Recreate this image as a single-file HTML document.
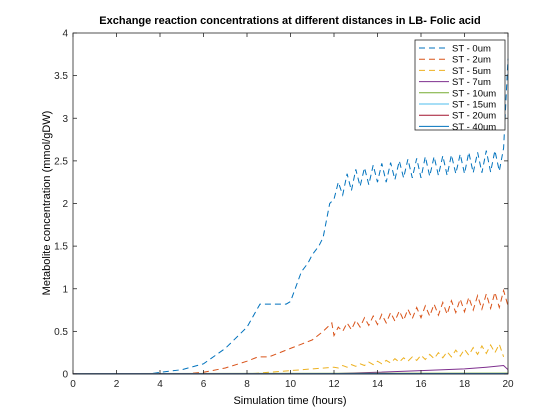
<!DOCTYPE html>
<html><head><meta charset="utf-8"><style>
body{margin:0;background:#fff;}
svg{display:block;font-family:"Liberation Sans",Helvetica,sans-serif;}
</style></head><body>
<svg id="chart" width="560" height="420" viewBox="0 0 560 420" xmlns="http://www.w3.org/2000/svg">
<rect width="560" height="420" fill="#fff"/>
<text x="290" y="24" text-anchor="middle" font-size="11" font-weight="bold">Exchange reaction concentrations at different distances in LB- Folic acid</text>
<text x="290" y="404" text-anchor="middle" font-size="11">Simulation time (hours)</text>
<text transform="translate(50,203) rotate(-90)" text-anchor="middle" font-size="11">Metabolite concentration (mmol/gDW)</text>
<g id="series"></g>
<g id="axes"></g>
<g id="legend"></g>
</svg>
<script>
const xTicks=[0,2,4,6,8,10,12,14,16,18,20];
const yTicks=[0,0.5,1,1.5,2,2.5,3,3.5,4];
const yTickLabels=["0","0.5","1","1.5","2","2.5","3","3.5","4"];
const seriesNames=["ST - 0um","ST - 2um","ST - 5um","ST - 7um","ST - 10um","ST - 15um","ST - 20um","ST - 40um"];
const oscT=[12,12.2,12.4,12.6,12.8,13,13.2,13.4,13.6,13.8,14,14.2,14.4,14.6,14.8,15,15.2,15.4,15.6,15.8,16,16.2,16.4,16.6,16.8,17,17.2,17.4,17.6,17.8,18,18.2,18.4,18.6,18.8,19,19.2,19.4,19.6,19.8,20];
const t0=[0,3.5,4,5,6,7,8,8.6,9.5,9.8,10,10.5,10.8,11,11.3,11.5,11.8].concat(oscT);
const v0=[0,0,0.02,0.05,0.12,0.3,0.55,0.82,0.82,0.82,0.85,1.2,1.3,1.4,1.5,1.6,2.0,
2.05,2.25,2.1,2.35,2.15,2.4,2.2,2.42,2.22,2.45,2.25,2.47,2.25,2.48,2.28,2.5,2.3,2.52,2.3,2.53,2.3,2.55,2.32,2.55,2.33,2.56,2.33,2.57,2.35,2.58,2.35,2.6,2.36,2.6,2.36,2.62,2.37,2.62,2.38,2.65,3.7];
const t1=[0,5,6,7,8,8.5,9,9.5,10,10.5,11,11.5,11.9].concat(oscT);
const v1=[0,0,0.02,0.07,0.15,0.2,0.2,0.25,0.3,0.35,0.4,0.5,0.6,
0.45,0.55,0.5,0.6,0.52,0.63,0.55,0.66,0.57,0.68,0.58,0.7,0.6,0.72,0.62,0.74,0.63,0.76,0.65,0.78,0.66,0.8,0.68,0.82,0.69,0.84,0.7,0.86,0.72,0.88,0.73,0.9,0.75,0.92,0.76,0.94,0.77,0.96,0.78,0.98,0.8,1.0,1.4];
const t2=[0,8,9,10,11].concat(oscT);
const v2=[0,0,0.02,0.04,0.06,
0.08,0.07,0.1,0.08,0.11,0.09,0.12,0.1,0.14,0.11,0.15,0.12,0.16,0.13,0.18,0.14,0.19,0.15,0.2,0.16,0.22,0.17,0.23,0.18,0.25,0.19,0.26,0.2,0.28,0.21,0.29,0.22,0.31,0.23,0.33,0.24,0.34,0.25,0.35,0.2];
const t3=[0,12,14,16,18,19,19.8,20];
const v3=[0,0.005,0.02,0.04,0.06,0.08,0.1,0.05];
const t4=[0,20];const v4=[0.005,0.01];
const t5=[0,20];const v5=[0.003,0.006];
const t6=[0,20];const v6=[0.002,0.004];
const t7=[0,20];const v7=[0.001,0.003];
const seriesT=[t0,t1,t2,t3,t4,t5,t6,t7];
const seriesV=[v0,v1,v2,v3,v4,v5,v6,v7];
const colors=["#0072BD","#D95319","#EDB120","#7E2F8E","#77AC30","#4DBEEE","#A2142F","#0072BD"];
const dashed=[true,true,true,false,false,false,false,false];
const X0=73,X1=508,Y0=374,Y1=33;
const xs=v=>X0+(v/20)*(X1-X0);
const ys=v=>Y0-(v/4)*(Y0-Y1);
const NS="http://www.w3.org/2000/svg";
function mk(tag,attrs,parent){const e=document.createElementNS(NS,tag);for(const k in attrs)e.setAttribute(k,attrs[k]);parent.appendChild(e);return e;}
const sg=document.getElementById('series');
seriesT.forEach((T,i)=>{
  const d=T.map((t,j)=>(j?'L':'M')+xs(t).toFixed(1)+','+ys(seriesV[i][j]).toFixed(1)).join('');
  const p=mk('path',{d:d,fill:'none',stroke:colors[i],'stroke-width':1},sg);
  if(dashed[i])p.setAttribute('stroke-dasharray','6,4');
  
  
});
const ag=document.getElementById('axes');
const box=mk('rect',{x:X0,y:Y1,width:X1-X0,height:Y0-Y1,fill:'none',stroke:'#262626','stroke-width':0.8},ag);


xTicks.forEach(v=>{
  const x=xs(v);
  mk('line',{x1:x,x2:x,y1:Y0,y2:Y0-4,stroke:'#262626','stroke-width':0.8},ag);
  mk('line',{x1:x,x2:x,y1:Y1,y2:Y1+4,stroke:'#262626','stroke-width':0.8},ag);
  const tx=mk('text',{x:x,y:Y0+13,'text-anchor':'middle','font-size':10,fill:'#262626'},ag);
  tx.textContent=v;
  
  
});
yTicks.forEach((v,i)=>{
  const y=ys(v);
  mk('line',{x1:X0,x2:X0+4,y1:y,y2:y,stroke:'#262626','stroke-width':0.8},ag);
  mk('line',{x1:X1,x2:X1-4,y1:y,y2:y,stroke:'#262626','stroke-width':0.8},ag);
  const tx=mk('text',{x:X0-5,y:y+3.5,'text-anchor':'end','font-size':10,fill:'#262626'},ag);
  tx.textContent=yTickLabels[i];
  
  
});
const lg=document.getElementById('legend');
mk('rect',{x:415,y:40,width:90,height:90,fill:'#fff',stroke:'#262626','stroke-width':0.8},lg);
seriesNames.forEach((n,i)=>{
  const y=48+i*11.2;
  const l=mk('line',{x1:419,x2:449,y1:y,y2:y,stroke:colors[i],'stroke-width':1},lg);
  if(dashed[i])l.setAttribute('stroke-dasharray','6,4');
  const tx=mk('text',{x:452,y:y+3.5,'font-size':9.5,fill:'#000'},lg);
  tx.textContent=n;
  
  
});
</script>
</body></html>
